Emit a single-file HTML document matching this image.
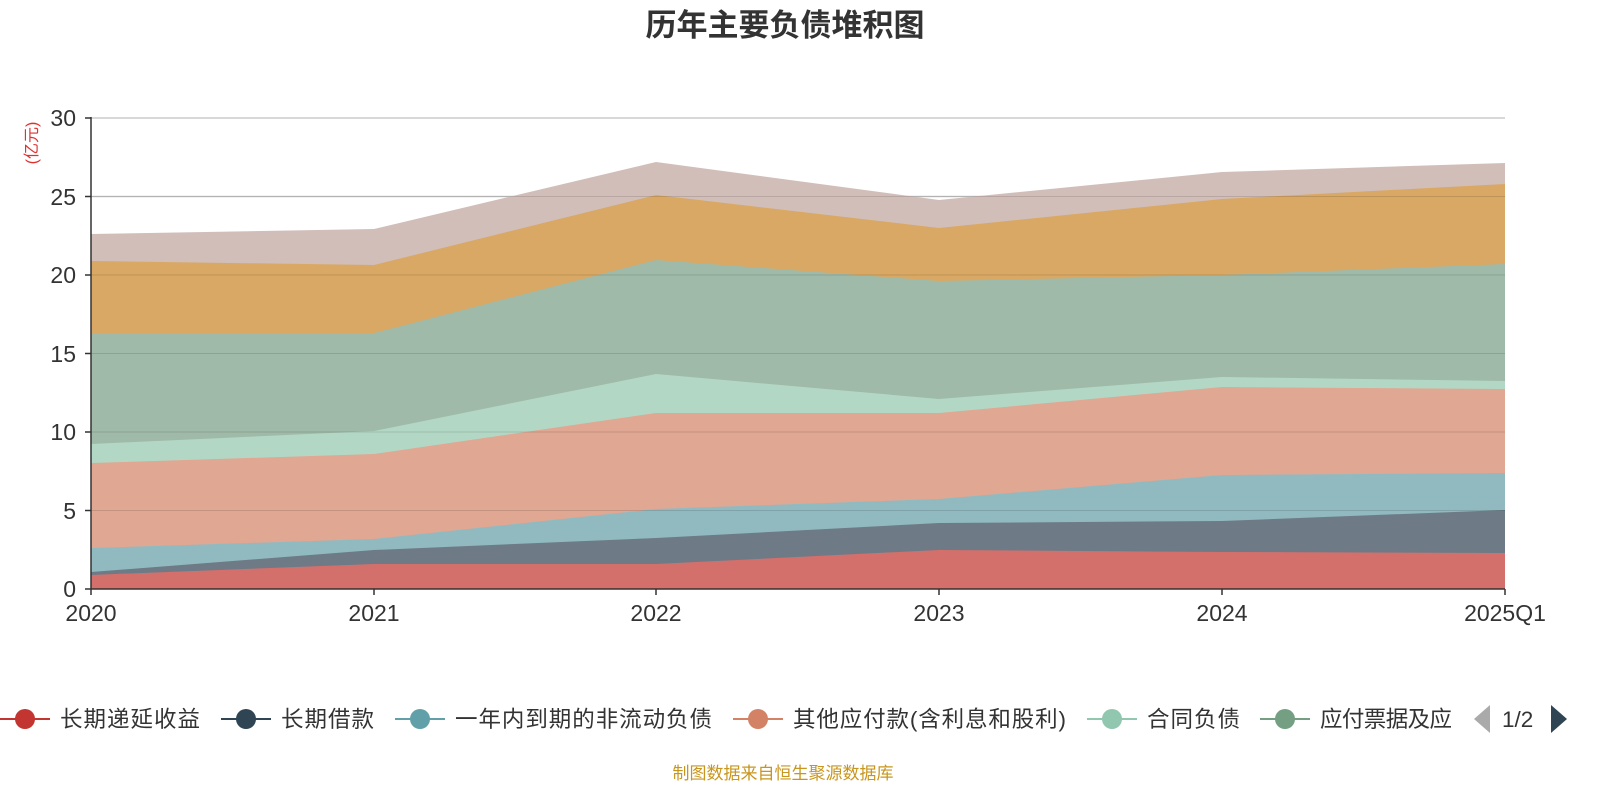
<!DOCTYPE html>
<html><head><meta charset="utf-8"><style>
body{margin:0;background:#fff;width:1600px;height:800px;overflow:hidden;font-family:"Liberation Sans","Noto Sans CJK SC",sans-serif;}
</style></head><body>
<svg width="1600" height="800" xmlns="http://www.w3.org/2000/svg" style="font-family:'Liberation Sans','Noto Sans CJK SC',sans-serif">
<text x="785" y="36" text-anchor="middle" font-size="31" font-weight="bold" fill="#333">历年主要负债堆积图</text>
<text transform="translate(37,143) rotate(-90)" text-anchor="middle" font-size="16" fill="#e03030">(亿元)</text>
<g stroke="#ccc" stroke-width="1.5">
<line x1="91" y1="118" x2="1505" y2="118"/>
<line x1="91" y1="196.5" x2="1505" y2="196.5"/>
<line x1="91" y1="275" x2="1505" y2="275"/>
<line x1="91" y1="353.5" x2="1505" y2="353.5"/>
<line x1="91" y1="432" x2="1505" y2="432"/>
<line x1="91" y1="510.5" x2="1505" y2="510.5"/>
</g>
<g>
<polygon fill="#d1beb8" points="91,234 374,229 656,162 939,200 1222,172 1505,163 1505,589 91,589"/>
<polygon fill="#d9a864" points="91,261 374,265 656,195 939,228 1222,199 1505,184 1505,589 91,589"/>
<polygon fill="#9fbaa8" points="91,333 374,333 656,260 939,281 1222,275 1505,264 1505,589 91,589"/>
<polygon fill="#b2d8c5" points="91,444 374,431 656,374 939,399 1222,377 1505,381 1505,589 91,589"/>
<polygon fill="#e0a793" points="91,463 374,454 656,413 939,413 1222,387 1505,389 1505,589 91,589"/>
<polygon fill="#91bac0" points="91,548 374,539 656,509 939,499 1222,475 1505,473 1505,589 91,589"/>
<polygon fill="#6e7b86" points="91,572 374,550 656,538 939,523 1222,521 1505,510 1505,589 91,589"/>
<polygon fill="#d4706c" points="91,575 374,564 656,564 939,550 1222,552 1505,553 1505,589 91,589"/>
</g>
<g stroke="rgba(0,0,0,0.12)" stroke-width="1">
<line x1="91" y1="196.5" x2="1505" y2="196.5"/>
<line x1="91" y1="275" x2="1505" y2="275"/>
<line x1="91" y1="353.5" x2="1505" y2="353.5"/>
<line x1="91" y1="432" x2="1505" y2="432"/>
<line x1="91" y1="510.5" x2="1505" y2="510.5"/>
</g>
<g stroke="#333" stroke-width="1.5">
<line x1="91" y1="117" x2="91" y2="589"/>
<line x1="91" y1="589" x2="1505" y2="589"/>
<line x1="85" y1="118" x2="91" y2="118"/><line x1="85" y1="196.5" x2="91" y2="196.5"/><line x1="85" y1="275" x2="91" y2="275"/><line x1="85" y1="353.5" x2="91" y2="353.5"/><line x1="85" y1="432" x2="91" y2="432"/><line x1="85" y1="510.5" x2="91" y2="510.5"/><line x1="85" y1="589" x2="91" y2="589"/>
<line x1="91" y1="589" x2="91" y2="595"/><line x1="374" y1="589" x2="374" y2="595"/><line x1="656" y1="589" x2="656" y2="595"/><line x1="939" y1="589" x2="939" y2="595"/><line x1="1222" y1="589" x2="1222" y2="595"/><line x1="1505" y1="589" x2="1505" y2="595"/>
</g>
<g font-size="23" fill="#333" text-anchor="end">
<text x="76" y="126">30</text><text x="76" y="205">25</text><text x="76" y="283">20</text><text x="76" y="362">15</text><text x="76" y="440">10</text><text x="76" y="519">5</text><text x="76" y="597">0</text>
</g>
<g font-size="23" fill="#333" text-anchor="middle">
<text x="91" y="621">2020</text><text x="374" y="621">2021</text><text x="656" y="621">2022</text><text x="939" y="621">2023</text><text x="1222" y="621">2024</text><text x="1505" y="621">2025Q1</text>
</g>
<g font-size="22.5" fill="#333">
<line x1="0" y1="719" x2="50" y2="719" stroke="#c23531" stroke-width="2"/><circle cx="25" cy="719" r="10" fill="#c23531"/><text x="60" y="727" textLength="140">长期递延收益</text>
<line x1="221" y1="719" x2="271" y2="719" stroke="#2f4554" stroke-width="2"/><circle cx="246" cy="719" r="10" fill="#2f4554"/><text x="281" y="727" textLength="93">长期借款</text>
<line x1="395" y1="719" x2="445" y2="719" stroke="#61a0a8" stroke-width="2"/><circle cx="420" cy="719" r="10" fill="#61a0a8"/><text x="455" y="727" textLength="257">一年内到期的非流动负债</text>
<line x1="733" y1="719" x2="783" y2="719" stroke="#d48265" stroke-width="2"/><circle cx="758" cy="719" r="10" fill="#d48265"/><text x="793" y="727" textLength="273">其他应付款(含利息和股利)</text>
<line x1="1087" y1="719" x2="1137" y2="719" stroke="#91c7ae" stroke-width="2"/><circle cx="1112" cy="719" r="10" fill="#91c7ae"/><text x="1147" y="727" textLength="93">合同负债</text>
<line x1="1260" y1="719" x2="1310" y2="719" stroke="#749f83" stroke-width="2"/><circle cx="1285" cy="719" r="10" fill="#749f83"/><text x="1320" y="727" textLength="132">应付票据及应</text>
<polygon points="1490,705 1490,733 1474,719" fill="#aaa"/>
<text x="1502" y="727">1/2</text>
<polygon points="1551,705 1551,733 1567,719" fill="#2f4554"/>
</g>
<text x="783" y="779" text-anchor="middle" font-size="17" fill="#c8961e">制图数据来自恒生聚源数据库</text>
</svg>
</body></html>
